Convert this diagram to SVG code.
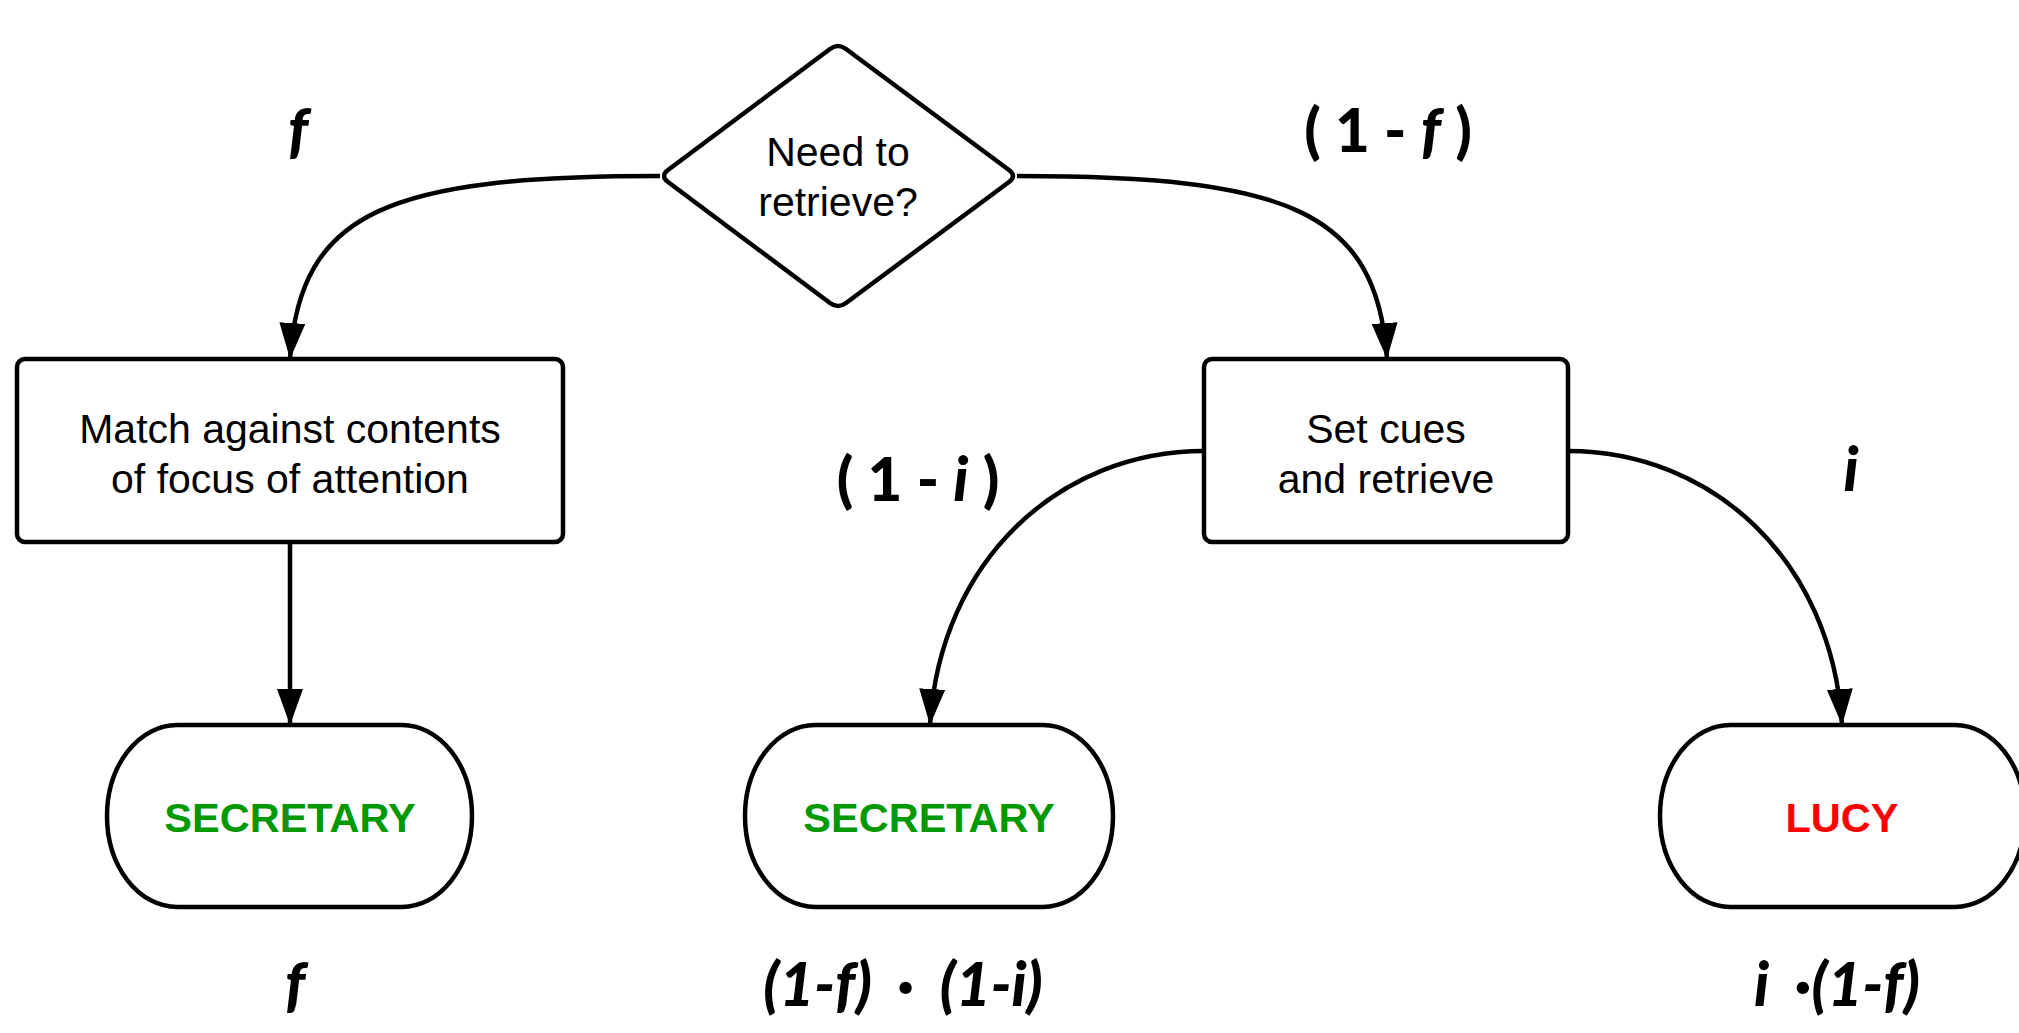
<svg xmlns="http://www.w3.org/2000/svg" width="2019" height="1033" viewBox="0 0 2019 1033">
<style>
.shape{fill:#fff;stroke:#000;stroke-width:4.5;stroke-linejoin:round}
.edge{fill:none;stroke:#000;stroke-width:4.5}
.t{font-family:"Liberation Sans",Arial,sans-serif;font-size:41px;fill:#000;text-anchor:middle}
.term{font-family:"Liberation Sans",Arial,sans-serif;font-size:41.5px;font-weight:bold;text-anchor:middle}
.lbl{font-family:Lato,"Open Sans",sans-serif;font-size:60px;font-weight:900;fill:#000;text-anchor:middle}
.it{font-style:italic}
</style>
<defs>
<marker id="arr" markerUnits="userSpaceOnUse" markerWidth="38" markerHeight="28" refX="36" refY="13" orient="auto">
<path d="M0,0 L36,13 L0,26 z" fill="#000"/>
</marker>
</defs>
<g id="connectors">
<path class="edge" d="M660,176 C390,176 300,210 290,359" marker-end="url(#arr)"/>
<path class="edge" d="M1017,176 C1287,176 1377,210 1387,359" marker-end="url(#arr)"/>
<path class="edge" d="M290,542 L290,725" marker-end="url(#arr)"/>
<path class="edge" d="M1204,451 C1060,451 940,560 930,725" marker-end="url(#arr)"/>
<path class="edge" d="M1568,451 C1712,451 1832,560 1842,725" marker-end="url(#arr)"/>
</g>
<g id="decision">
<path class="shape" d="M846,49 L1009,170 Q1017,176 1009,182 L846,303 Q838,309 830,303 L668,182 Q660,176 668,170 L830,49 Q838,43 846,49 Z"/>
<text class="t" x="838" y="166">Need to</text>
<text class="t" x="838" y="216">retrieve?</text>
</g>
<g id="match">
<rect class="shape" x="17" y="359" width="546" height="183" rx="8"/>
<text class="t" x="290" y="443">Match against contents</text>
<text class="t" x="290" y="493">of focus of attention</text>
</g>
<g id="setcues">
<rect class="shape" x="1204" y="359" width="364" height="183" rx="8"/>
<text class="t" x="1386" y="443">Set cues</text>
<text class="t" x="1386" y="493">and retrieve</text>
</g>
<g id="secretary1">
<rect class="shape" x="107" y="725" width="365" height="182" rx="70" ry="91"/>
<text class="term" x="290" y="832" fill="#009900">SECRETARY</text>
</g>
<g id="secretary2">
<rect class="shape" x="745" y="725" width="368" height="182" rx="70" ry="91"/>
<text class="term" x="929" y="832" fill="#009900">SECRETARY</text>
</g>
<g id="lucy">
<rect class="shape" x="1660" y="725" width="365" height="182" rx="70" ry="91"/>
<text class="term" x="1842" y="832" fill="#ff0000">LUCY</text>
</g>
<g id="labels">
<text class="lbl it" x="298" y="152">f</text>
<text class="lbl" x="1388" y="152" xml:space="preserve">( 1 - <tspan class="it">f</tspan> )</text>
<text class="lbl" x="918" y="501" xml:space="preserve">( 1 - <tspan class="it">i</tspan> )</text>
<text class="lbl it" x="1851" y="491">i</text>
<text class="lbl it" x="295" y="1006">f</text>
<text class="lbl it" x="903" y="1006" xml:space="preserve">(1-f)  ·  (1-i)</text>
<text class="lbl it" x="1837" y="1006" xml:space="preserve">i  ·(1-f)</text>
</g>
</svg>
